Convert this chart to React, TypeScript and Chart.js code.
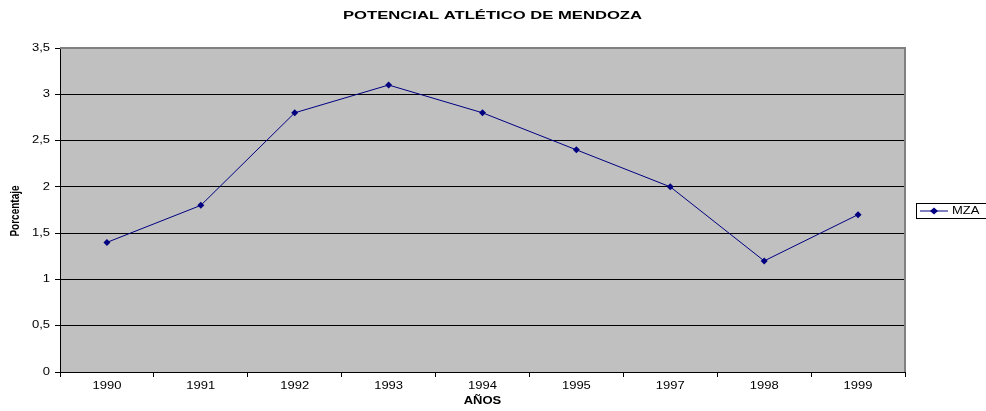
import React, { useEffect, useRef } from "react";
import { Chart, registerables } from "chart.js";

Chart.register(...registerables);

const categories = ["1990", "1991", "1992", "1993", "1994", "1995", "1997", "1998", "1999"];
const mzaValues = [1.4, 1.8, 2.8, 3.1, 2.8, 2.4, 2.0, 1.2, 1.7];
const seriesLabel = "MZA";
const chartTitle = "POTENCIAL ATLÉTICO DE MENDOZA";
const xTitle = "AÑOS";
const yTitle = "Porcentaje";

const FONT = "'Liberation Sans', Arial, sans-serif";
const NAVY = "#000080";
const SX = 1.3;

function drawText(
  ctx: CanvasRenderingContext2D,
  text: string,
  x: number,
  y: number,
  font: string,
  sx: number,
  align: CanvasTextAlign,
  rotate = false
) {
  ctx.save();
  ctx.font = font;
  ctx.fillStyle = "#000";
  ctx.textAlign = align;
  ctx.textBaseline = "middle";
  ctx.translate(x, y);
  if (rotate) {
    ctx.rotate(-Math.PI / 2);
    ctx.scale(1, sx);
  } else {
    ctx.scale(sx, 1);
  }
  ctx.fillText(text, 0, 0);
  ctx.restore();
}

const decorPlugin = {
  id: "decor",
  beforeDraw(chart: any) {
    const { ctx, chartArea } = chart;
    ctx.save();
    ctx.fillStyle = "#ffffff";
    ctx.fillRect(0, 0, chart.width, chart.height);
    ctx.fillStyle = "#c0c0c0";
    ctx.fillRect(chartArea.left, chartArea.top, chartArea.right - chartArea.left, chartArea.bottom - chartArea.top);
    ctx.restore();
  },
  beforeDatasetsDraw(chart: any) {
    const { ctx, chartArea } = chart;
    ctx.save();
    ctx.strokeStyle = "#808080";
    ctx.lineWidth = 2;
    ctx.beginPath();
    ctx.moveTo(chartArea.left, chartArea.top);
    ctx.lineTo(chartArea.right, chartArea.top);
    ctx.lineTo(chartArea.right, chartArea.bottom);
    ctx.stroke();
    ctx.restore();
  },
  afterDraw(chart: any) {
    const { ctx, chartArea } = chart;
    const xs = chart.scales.x;
    const ys = chart.scales.y;
    ctx.save();
    // title
    const tFont = `bold 11px ${FONT}`;
    ctx.font = tFont;
    const tw = ctx.measureText(chartTitle).width;
    drawText(ctx, chartTitle, 492.5, 16, tFont, 299 / tw, "center");
    // x tick labels
    const tickFont = `10px ${FONT}`;
    xs.ticks.forEach((t: any, i: number) => {
      const px = xs.getPixelForTick(i);
      drawText(ctx, String(categories[t.value] ?? t.label), px, chartArea.bottom + 14, tickFont, SX, "center");
    });
    // y tick labels
    ys.ticks.forEach((t: any, i: number) => {
      const py = ys.getPixelForTick(i);
      drawText(ctx, String(t.value).replace(".", ","), 50, py, tickFont, SX, "right");
    });
    // axis titles
    const titleFont = `bold 10px ${FONT}`;
    drawText(ctx, xTitle, (chartArea.left + chartArea.right) / 2, 401, titleFont, SX, "center");
    drawText(ctx, yTitle, 15, 211, titleFont, SX, "center", true);
    // legend
    const bx = 916, by = 203, bw = 70, bh = 15;
    ctx.strokeStyle = "#000";
    ctx.lineWidth = 1;
    ctx.strokeRect(bx + 0.5, by + 0.5, bw, bh);
    const ly = by + bh / 2 + 0.5;
    ctx.strokeStyle = NAVY;
    ctx.beginPath();
    ctx.moveTo(bx + 4, ly);
    ctx.lineTo(bx + 32, ly);
    ctx.stroke();
    ctx.fillStyle = NAVY;
    ctx.beginPath();
    const cx = bx + 18;
    ctx.moveTo(cx, ly - 3.5);
    ctx.lineTo(cx + 4, ly);
    ctx.lineTo(cx, ly + 3.5);
    ctx.lineTo(cx - 4, ly);
    ctx.closePath();
    ctx.fill();
    drawText(ctx, seriesLabel, bx + 36, ly, tickFont, SX, "left");
    ctx.restore();
  },
};

export default function App() {
  const ref = useRef<HTMLCanvasElement>(null);
  useEffect(() => {
    if (!ref.current) return;
    const chart = new Chart(ref.current, {
      type: "line",
      data: {
        labels: categories,
        datasets: [
          {
            label: seriesLabel,
            data: mzaValues,
            borderColor: NAVY,
            backgroundColor: NAVY,
            borderWidth: 1,
            pointStyle: "rectRot",
            pointRadius: 3.5,
            pointBorderWidth: 0,
            pointBackgroundColor: NAVY,
            tension: 0,
          },
        ],
      },
      plugins: [decorPlugin],
      options: {
        responsive: false,
        animation: false,
        devicePixelRatio: 1,
        layout: { padding: { left: 0, right: 81, top: 48, bottom: 0 } },
        plugins: {
          legend: { display: false },
          title: { display: false },
          tooltip: { enabled: false },
        },
        scales: {
          x: {
            type: "category",
            offset: true,
            grid: {
              offset: true,
              drawOnChartArea: false,
              drawTicks: true,
              tickLength: 5,
              color: "#000",
            },
            border: { color: "#000", width: 1 },
            ticks: {
              color: "rgba(0,0,0,0)",
              font: { family: FONT, size: 10 },
              padding: 2,
              maxRotation: 0,
              autoSkip: false,
            },
            afterFit(scale: any) {
              scale.height = 39;
            },
          },
          y: {
            min: 0,
            max: 3.5,
            grid: {
              color: "#000",
              lineWidth: 1,
              drawTicks: true,
              tickLength: 5,
            },
            border: { color: "#000", width: 1 },
            ticks: {
              stepSize: 0.5,
              color: "rgba(0,0,0,0)",
              padding: 6,
              font: { family: FONT, size: 10 },
            },
            afterFit(scale: any) {
              scale.width = 60;
            },
          },
        },
      },
    } as any);
    return () => chart.destroy();
  }, []);
  return (
    <canvas
      ref={ref}
      width={986}
      height={411}
      style={{ position: "fixed", left: 0, top: 0, width: 986, height: 411 }}
    />
  );
}
